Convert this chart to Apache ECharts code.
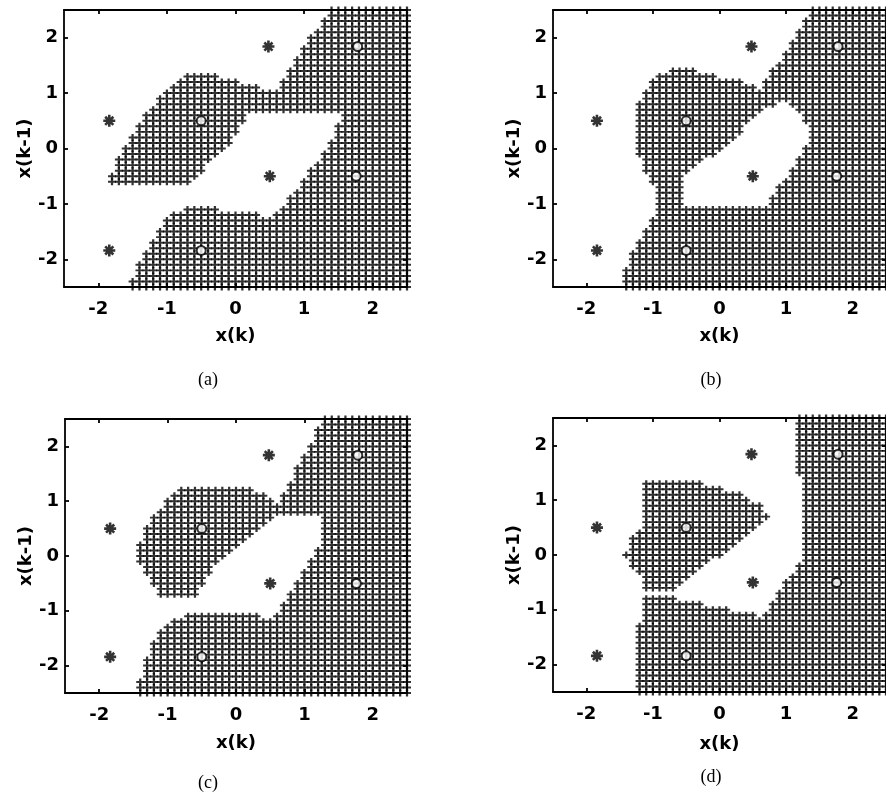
<!DOCTYPE html>
<html><head><meta charset="utf-8">
<script src="https://cdn.jsdelivr.net/npm/echarts@6/dist/echarts.min.js"></script>
<style>html,body{margin:0;padding:0;background:#fff}#c{width:886px;height:796px}</style>
</head><body><div id="c"></div>
<script>
const tickValues = [-2, -1, 0, 1, 2];
const axisRange = [-2.5, 2.5];
const xName = 'x(k)';
const yName = 'x(k-1)';
const captions = ['(a)', '(b)', '(c)', '(d)'];
const starPts = [[-1.84, 0.5], [-1.84, -1.84], [0.48, 1.84], [0.5, -0.5]];
const circlePts = [[-0.5, 0.5], [-0.5, -1.84], [1.78, 1.84], [1.76, -0.5]];

// Hatched decision region.
// Each row: [y*10, xStart*10, xEnd*10, (xStart*10, xEnd*10) ...], grid step 0.1
const rowsA = [
 [25,14,25],[24,14,25],[23,13,25],[22,13,25],[21,12,25],[20,11,25],[19,11,25],[18,10,25],
 [17,10,25],[16,9,25],[15,9,25],[14,8,25],[13,-7,-3,8,25],[12,-8,0,7,25],[11,-9,3,7,25],
 [10,-10,25],[9,-11,25],[8,-11,25],[7,-12,25],[6,-13,1,16,25],[5,-13,1,16,25],[4,-14,0,15,25],
 [3,-14,0,15,25],[2,-15,-1,15,25],[1,-15,-1,14,25],[0,-16,-2,14,25],[-1,-16,-3,13,25],
 [-2,-17,-4,13,25],[-3,-17,-5,12,25],[-4,-17,-5,11,25],[-5,-18,-6,11,25],[-6,-18,-7,10,25],
 [-7,10,25],[-8,9,25],[-9,8,25],[-10,8,25],[-11,-7,-3,7,25],[-12,-9,3,6,25],[-13,-10,25],
 [-14,-10,25],[-15,-11,25],[-16,-11,25],[-17,-12,25],[-18,-12,25],[-19,-13,25],[-20,-13,25],
 [-21,-14,25],[-22,-14,25],[-23,-14,25],[-24,-15,25],[-25,-15,25]
];
const rowsB = [
 [25,14,25],[24,14,25],[23,13,25],[22,13,25],[21,12,25],[20,12,25],[19,11,25],[18,11,25],
 [17,10,25],[16,10,25],[15,9,25],[14,-7,-4,8,25],[13,-9,-1,8,25],[12,-10,3,7,25],[11,-10,5,7,25],
 [10,-11,25],[9,-11,25],[8,-12,8,11,25],[7,-12,6,12,25],[6,-12,5,13,25],[5,-12,4,13,25],
 [4,-12,3,14,25],[3,-12,3,14,25],[2,-12,2,14,25],[1,-12,1,14,25],[0,-12,0,13,25],[-1,-12,-1,13,25],
 [-2,-11,-3,12,25],[-3,-11,-4,12,25],[-4,-11,-5,11,25],[-5,-10,-6,11,25],[-6,-10,-6,10,25],
 [-7,-9,-6,9,25],[-8,-9,-6,9,25],[-9,-9,-6,8,25],[-10,-9,-6,8,25],[-11,-9,25],[-12,-9,25],
 [-13,-10,25],[-14,-10,25],[-15,-11,25],[-16,-11,25],[-17,-12,25],[-18,-12,25],[-19,-13,25],
 [-20,-13,25],[-21,-13,25],[-22,-14,25],[-23,-14,25],[-24,-14,25],[-25,-14,25]
];
const rowsC = [
 [25,13,25],[24,13,25],[23,12,25],[22,12,25],[21,12,25],[20,11,25],[19,11,25],[18,10,25],
 [17,10,25],[16,9,25],[15,9,25],[14,9,25],[13,8,25],[12,-8,2,8,25],[11,-9,4,7,25],[10,-10,5,7,25],
 [9,-10,25],[8,-11,25],[7,-12,5,13,25],[6,-12,4,13,25],[5,-13,3,13,25],[4,-13,2,13,25],
 [3,-13,1,13,25],[2,-14,0,13,25],[1,-14,-1,12,25],[0,-14,-2,12,25],[-1,-14,-3,11,25],
 [-2,-13,-4,11,25],[-3,-13,-4,10,25],[-4,-12,-5,10,25],[-5,-12,-5,9,25],[-6,-11,-6,9,25],
 [-7,-11,-6,8,25],[-8,8,25],[-9,7,25],[-10,7,25],[-11,-7,3,6,25],[-12,-9,25],[-13,-10,25],
 [-14,-11,25],[-15,-11,25],[-16,-12,25],[-17,-12,25],[-18,-12,25],[-19,-13,25],[-20,-13,25],
 [-21,-13,25],[-22,-13,25],[-23,-14,25],[-24,-14,25],[-25,-14,25]
];
const rowsD = [
 [25,12,25],[24,12,25],[23,12,25],[22,12,25],[21,12,25],[20,12,25],[19,12,25],[18,12,25],
 [17,12,25],[16,12,25],[15,12,25],[14,13,25],[13,-11,-3,13,25],[12,-11,0,13,25],[11,-11,3,13,25],
 [10,-11,4,13,25],[9,-11,6,13,25],[8,-11,6,13,25],[7,-11,7,13,25],[6,-11,6,13,25],[5,-11,5,13,25],
 [4,-12,4,13,25],[3,-13,3,13,25],[2,-13,2,13,25],[1,-13,1,13,25],[0,-14,0,13,25],[-1,-13,-2,13,25],
 [-2,-13,-3,12,25],[-3,-12,-4,12,25],[-4,-11,-5,11,25],[-5,-11,-6,10,25],[-6,-11,-7,10,25],
 [-7,9,25],[-8,-11,-7,9,25],[-9,-11,-3,8,25],[-10,-11,1,8,25],[-11,-11,5,7,25],[-12,-11,25],
 [-13,-12,25],[-14,-12,25],[-15,-12,25],[-16,-12,25],[-17,-12,25],[-18,-12,25],[-19,-12,25],
 [-20,-12,25],[-21,-12,25],[-22,-12,25],[-23,-12,25],[-24,-12,25],[-25,-12,25]
];
const panelRows = [rowsA, rowsB, rowsC, rowsD];

function expandRows(rows) {
  const pts = [];
  rows.forEach(r => {
    const y = r[0] / 10;
    for (let k = 1; k < r.length; k += 2) {
      for (let x = r[k]; x <= r[k + 1]; x++) pts.push([x / 10, y]);
    }
  });
  return pts;
}

const grids = [
  {left: 64, top: 10, width: 343, height: 277},
  {left: 553, top: 10, width: 341, height: 277},
  {left: 65, top: 419, width: 342, height: 274},
  {left: 553, top: 418, width: 341, height: 274}
];
const captionPos = [[203, 366], [706, 366], [203, 769], [706, 763]];
const xNameGap = [40, 40, 41, 43];

const tickFont = {color: '#000', fontFamily: 'DejaVu Sans, Arial, sans-serif', fontWeight: 'bold', fontSize: 18};
const lineStyle = {color: '#000', width: 1.8};
const plusPath = 'path://M3.6,0H6.4V3.6H10V6.4H6.4V10H3.6V6.4H0V3.6H3.6Z';
const starPath = 'path://M5,0V10M0,5H10M1.6,1.6L8.4,8.4M8.4,1.6L1.6,8.4';

const xAxes = [], yAxes = [], series = [];
grids.forEach((g, i) => {
  xAxes.push({
    type: 'value', gridIndex: i, min: axisRange[0], max: axisRange[1], position: 'bottom',
    name: xName, nameLocation: 'middle', nameGap: xNameGap[i],
    nameTextStyle: Object.assign({}, tickFont),
    axisLine: {show: true, onZero: false, lineStyle},
    axisTick: {show: true, inside: true, length: 4, customValues: tickValues, lineStyle},
    axisLabel: Object.assign({show: true, margin: 13, customValues: tickValues, formatter: v => String(v)}, tickFont),
    splitLine: {show: false}
  });
  xAxes.push({
    type: 'value', gridIndex: i, min: axisRange[0], max: axisRange[1], position: 'top',
    axisLine: {show: true, onZero: false, lineStyle},
    axisTick: {show: true, inside: true, length: 4, customValues: tickValues, lineStyle},
    axisLabel: {show: false}, splitLine: {show: false}
  });
  yAxes.push({
    type: 'value', gridIndex: i, min: axisRange[0], max: axisRange[1], position: 'left',
    name: yName, nameLocation: 'middle', nameGap: 30,
    nameTextStyle: Object.assign({}, tickFont),
    axisLine: {show: true, onZero: false, lineStyle},
    axisTick: {show: true, inside: true, length: 4, customValues: tickValues, lineStyle},
    axisLabel: Object.assign({show: true, margin: 6, customValues: tickValues, formatter: v => String(v)}, tickFont),
    splitLine: {show: false}
  });
  yAxes.push({
    type: 'value', gridIndex: i, min: axisRange[0], max: axisRange[1], position: 'right',
    axisLine: {show: true, onZero: false, lineStyle},
    axisTick: {show: true, inside: true, length: 4, customValues: tickValues, lineStyle},
    axisLabel: {show: false}, splitLine: {show: false}
  });
  series.push({
    type: 'scatter', xAxisIndex: 2 * i, yAxisIndex: 2 * i, silent: true, animation: false,
    symbol: plusPath, symbolSize: [8, 7], itemStyle: {color: '#000'},
    data: expandRows(panelRows[i]), z: 2
  });
  series.push({
    type: 'scatter', xAxisIndex: 2 * i, yAxisIndex: 2 * i, silent: true, animation: false,
    symbol: starPath, symbolSize: 12,
    itemStyle: {color: '#000', borderColor: '#000', borderWidth: 2.6},
    data: starPts, z: 3
  });
  series.push({
    type: 'scatter', xAxisIndex: 2 * i, yAxisIndex: 2 * i, silent: true, animation: false,
    symbol: 'emptyCircle', symbolSize: 9,
    itemStyle: {color: '#000', borderColor: '#000', borderWidth: 1.4},
    data: circlePts, z: 3
  });
});

const titles = captions.map((t, i) => ({
  text: t, left: captionPos[i][0], top: captionPos[i][1], textAlign: 'center',
  textStyle: {fontFamily: 'Liberation Serif, Times New Roman, serif', fontWeight: 'normal', fontSize: 18, color: '#000'}
}));

const chart = echarts.init(document.getElementById('c'), null, {renderer: 'canvas'});
chart.setOption({
  animation: false,
  backgroundColor: '#fff',
  title: titles,
  grid: grids,
  xAxis: xAxes,
  yAxis: yAxes,
  series: series
});
</script>
</body></html>
